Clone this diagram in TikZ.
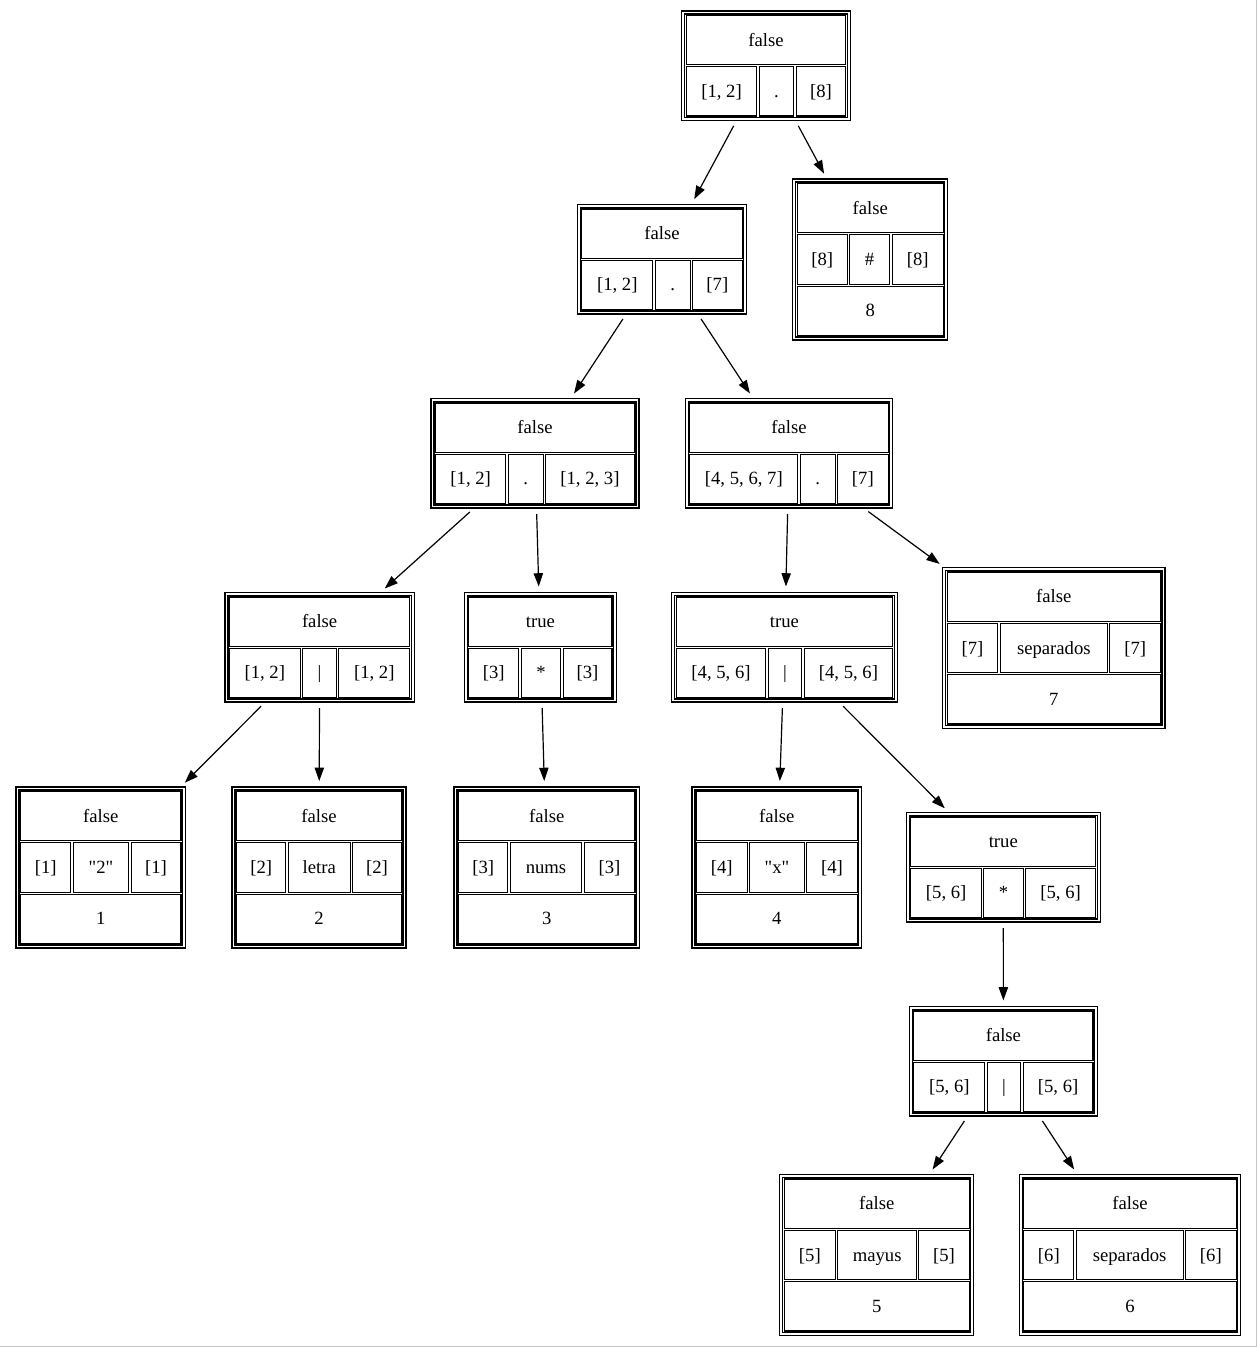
\documentclass[tikz,border=0pt]{standalone}
\usepackage{fontspec}
\setmainfont{Liberation Serif}[Ligatures=TeXOff]
\usetikzlibrary{arrows.meta}

\tikzset{
  recbox/.style={draw, line width=1.2pt, rectangle, inner sep=0pt, outer sep=0pt, anchor=north west},
  cellbox/.style={draw, line width=1.1pt},
  celltext/.style={inner sep=0pt, text height=15pt, text depth=3pt,
                   font=\fontsize{18.67pt}{22pt}\selectfont},
  edge/.style={line width=1.2pt, -{Triangle[length=13.3pt,width=9.3pt]},
               shorten <=6pt, shorten >=6pt},
}

% outer box of a record: name, left x, right x, top y, height
\newcommand\rbox[5]{%
  \node[recbox, minimum width={#3-#2}, minimum height=#5] (#1) at (#2,-#4) {};}

% read the box of a record and draw its inner border
\newcommand\getbox[1]{%
  \pgfpointanchor{#1}{north west}\pgfgetlastxy{\bxl}{\byt}%
  \pgfpointanchor{#1}{south east}\pgfgetlastxy{\bxr}{\byb}%
  \pgfmathsetmacro\bxL{\bxl+4.5}%
  \pgfmathsetmacro\bxR{\bxr-4.5}%
  \pgfmathsetmacro\bxT{\byt-4.5}%
  \pgfmathsetmacro\bxB{\byb+4.5}%
  \draw[line width=1.1pt] ({\bxl+3},{\byt-3}) rectangle ({\bxr-3},{\byb+3});}

% one cell: x1, x2, ytop, ybottom, text
\newcommand\cell[5]{%
  \draw[cellbox] (#1,#3) rectangle (#2,#4);
  \node[celltext] at ({(#1+#2)/2},{(#3+#4)/2}) {#5};}

% row of three cells: ytop, ybottom, divider 1, divider 2, texts
\newcommand\midrow[7]{%
  \cell{\bxL}{#3-1.15}{#1}{#2}{#5}%
  \cell{#3+1.15}{#4-1.15}{#1}{#2}{#6}%
  \cell{#4+1.15}{\bxR}{#1}{#2}{#7}}

% record with title and one row of three cells
\newcommand\twoRows[7]{%
  \getbox{#1}%
  \pgfmathsetmacro\bxM{(\bxT+\bxB)/2}%
  \cell{\bxL}{\bxR}{\bxT}{\bxM+1.15}{#4}%
  \midrow{\bxM-1.15}{\bxB}{#2}{#3}{#5}{#6}{#7}}

% record with title, a row of three cells and a bottom cell
\newcommand\threeRows[8]{%
  \getbox{#1}%
  \pgfmathsetmacro\bxH{(\bxT-\bxB-4.6)/3}%
  \pgfmathsetmacro\ryA{\bxT-\bxH}%
  \pgfmathsetmacro\ryB{\ryA-2.3}%
  \pgfmathsetmacro\ryC{\ryB-\bxH}%
  \pgfmathsetmacro\ryD{\ryC-2.3}%
  \cell{\bxL}{\bxR}{\bxT}{\ryA}{#4}%
  \midrow{\ryB}{\ryC}{#2}{#3}{#5}{#6}{#7}%
  \cell{\bxL}{\bxR}{\ryD}{\bxB}{#8}}

\begin{document}
\begin{tikzpicture}[x=1pt, y=1pt]
\useasboundingbox (0,0) rectangle (1257,-1347);
\draw[gray!45, line width=1pt] (1256,0) -- (1256,-1346) -- (0,-1346);

% record boxes
\rbox{root}{681.7}{850.3}{11}{109.5}
\rbox{n8}{792.7}{947.7}{179}{161}
\rbox{nb}{577.3}{746.7}{204.5}{109.5}
\rbox{nc}{431}{639}{398.5}{109.5}
\rbox{nd}{685.3}{892.7}{398.5}{109.5}
\rbox{ne}{225}{414.3}{592.5}{109.5}
\rbox{nf}{464.3}{616.5}{592.5}{109.5}
\rbox{ng}{671.7}{897.3}{592.5}{109.5}
\rbox{n7}{942.7}{1165}{567.5}{161}
\rbox{n1}{16}{185.5}{787}{161}
\rbox{n2}{232}{406}{787}{161}
\rbox{n3}{454}{639.5}{787}{161}
\rbox{n4}{692}{861.7}{787}{161}
\rbox{nh}{906.3}{1100.3}{812.5}{109.5}
\rbox{ni}{909.3}{1097.5}{1006.5}{109.5}
\rbox{n5}{779.7}{973.7}{1174.5}{161}
\rbox{n6}{1019.3}{1240.7}{1174.5}{161}

% record contents
\twoRows{root}{758}{795}{false}{[1, 2]}{.}{[8]}
\threeRows{n8}{848.3}{891}{false}{[8]}{\#}{[8]}{8}
\twoRows{nb}{654}{691.3}{false}{[1, 2]}{.}{[7]}
\twoRows{nc}{507}{544.3}{false}{[1, 2]}{.}{[1, 2, 3]}
\twoRows{nd}{799}{836.3}{false}{[4, 5, 6, 7]}{.}{[7]}
\twoRows{ne}{301.3}{337.7}{false}{[1, 2]}{|}{[1, 2]}
\twoRows{nf}{520}{562}{true}{[3]}{*}{[3]}
\twoRows{ng}{767}{803}{true}{[4, 5, 6]}{|}{[4, 5, 6]}
\threeRows{n7}{999}{1108.7}{false}{[7]}{separados}{[7]}{7}
\threeRows{n1}{72}{130}{false}{[1]}{"2"}{[1]}{1}
\threeRows{n2}{287}{351.5}{false}{[2]}{letra}{[2]}{2}
\threeRows{n3}{509}{583}{false}{[3]}{nums}{[3]}{3}
\threeRows{n4}{748.3}{805.7}{false}{[4]}{"x"}{[4]}{4}
\twoRows{nh}{982.7}{1024.3}{true}{[5, 6]}{*}{[5, 6]}
\twoRows{ni}{986}{1022}{false}{[5, 6]}{|}{[5, 6]}
\threeRows{n5}{836.7}{917.7}{false}{[5]}{mayus}{[5]}{5}
\threeRows{n6}{1075}{1184.3}{false}{[6]}{separados}{[6]}{6}

% tree edges
\draw[edge] (root) -- (nb);
\draw[edge] (root) -- (n8);
\draw[edge] (nb) -- (nc);
\draw[edge] (nb) -- (nd);
\draw[edge] (nc) -- (ne);
\draw[edge] (nc) -- (nf);
\draw[edge] (nd) -- (ng);
\draw[edge] (nd) -- (n7);
\draw[edge] (ne) -- (n1);
\draw[edge] (ne) -- (n2);
\draw[edge] (nf) -- (n3);
\draw[edge] (ng) -- (n4);
\draw[edge] (ng) -- (nh);
\draw[edge] (nh) -- (ni);
\draw[edge] (ni) -- (n5);
\draw[edge] (ni) -- (n6);
\end{tikzpicture}
\end{document}
